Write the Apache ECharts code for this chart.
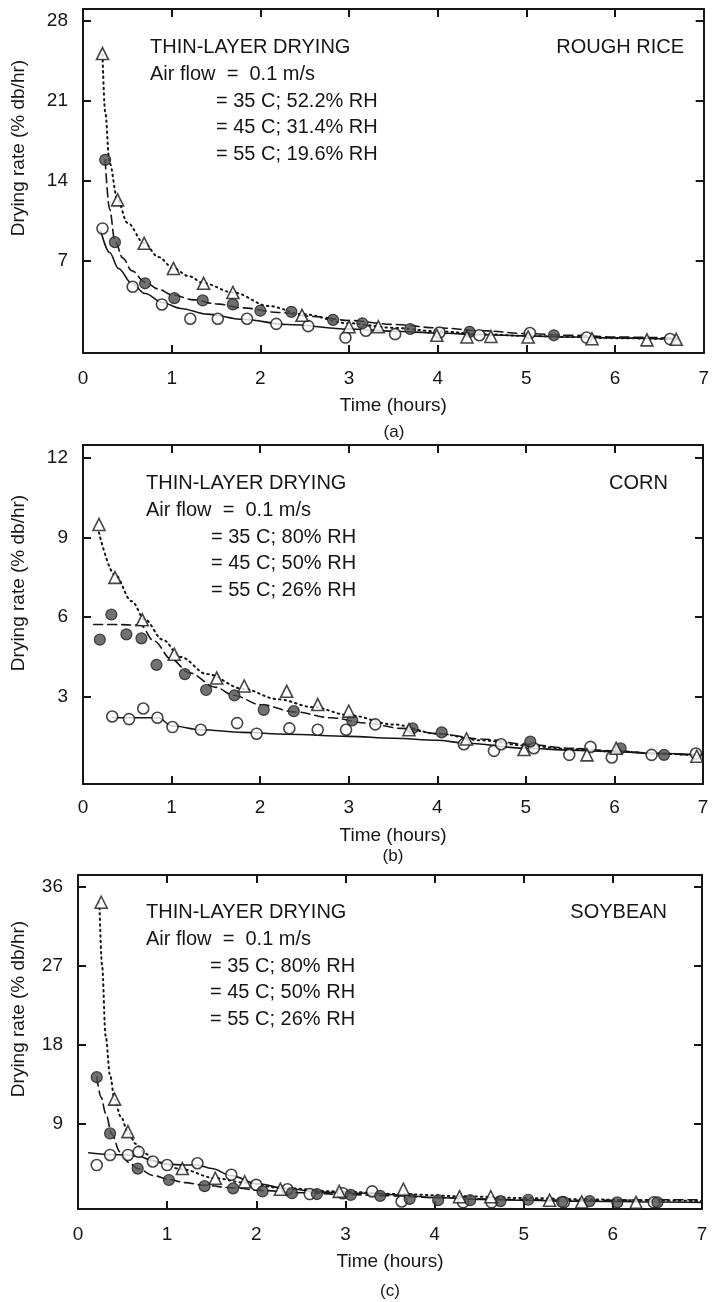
<!DOCTYPE html>
<html>
<head>
<meta charset="utf-8">
<script src="https://cdn.jsdelivr.net/npm/echarts@6/dist/echarts.min.js"></script>
<style>
html,body{margin:0;padding:0;background:#fff;}
#c{width:712px;height:1302px;}
</style>
</head>
<body>
<div id="c"></div>
<script>
// ---------- DATA ----------
const xTicks = [0, 1, 2, 3, 4, 5, 6, 7];
const riceYTicks = [7, 14, 21, 28];
const cornYTicks = [3, 6, 9, 12];
const soyYTicks = [9, 18, 27, 36];

// (a) Rough rice
const riceO35x = [0.22, 0.56, 0.89, 1.21, 1.52, 1.85, 2.18, 2.54, 2.96, 3.19, 3.52, 4.02, 4.47, 5.04, 5.68, 6.62];
const riceO35y = [9.8, 4.7, 3.15, 1.9, 1.9, 1.9, 1.45, 1.25, 0.25, 0.85, 0.55, 0.7, 0.45, 0.65, 0.25, 0.12];
const riceC45x = [0.25, 0.36, 0.70, 1.03, 1.35, 1.69, 2.0, 2.35, 2.82, 3.15, 3.69, 4.36, 5.31];
const riceC45y = [15.8, 8.6, 5.0, 3.7, 3.5, 3.15, 2.6, 2.5, 1.8, 1.5, 1.0, 0.75, 0.45];
const riceT55x = [0.22, 0.39, 0.69, 1.02, 1.36, 1.69, 2.47, 3.0, 3.33, 3.99, 4.33, 4.6, 5.02, 5.74, 6.36, 6.69];
const riceT55y = [25.1, 12.3, 8.5, 6.3, 5.0, 4.2, 2.2, 1.2, 1.2, 0.45, 0.3, 0.35, 0.3, 0.15, 0.05, 0.1];
const riceFit35x = [0.2, 0.3, 0.4, 0.55, 0.7, 0.9, 1.1, 1.4, 1.8, 2.3, 3.0, 3.5, 4.0, 4.5, 5.0, 5.5, 6.0, 6.5, 6.7];
const riceFit35y = [9.6, 7.7, 6.3, 5.0, 4.1, 3.3, 2.8, 2.3, 1.85, 1.4, 1.0, 0.8, 0.65, 0.5, 0.4, 0.3, 0.22, 0.15, 0.12];
const riceFit45x = [0.25, 0.3, 0.36, 0.45, 0.55, 0.7, 0.85, 1.0, 1.25, 1.5, 1.8, 2.2, 2.6, 3.0, 3.5, 4.0, 4.5, 5.0, 5.5, 6.0, 6.7];
const riceFit45y = [15.8, 11.5, 8.7, 7.2, 6.1, 5.1, 4.5, 4.0, 3.55, 3.2, 2.85, 2.45, 2.1, 1.75, 1.4, 1.1, 0.85, 0.6, 0.45, 0.3, 0.2];
const riceFit55x = [0.22, 0.25, 0.3, 0.39, 0.5, 0.69, 0.85, 1.02, 1.2, 1.36, 1.69, 2.1, 2.47, 3.0, 3.5, 4.0, 4.5, 5.0, 5.5, 6.0, 6.7];
const riceFit55y = [25.0, 20.0, 15.5, 12.3, 10.3, 8.5, 7.3, 6.3, 5.6, 5.0, 4.2, 3.0, 2.3, 1.5, 1.1, 0.8, 0.55, 0.4, 0.3, 0.2, 0.1];

// (b) Corn
const cornO35x = [0.33, 0.52, 0.68, 0.84, 1.01, 1.33, 1.74, 1.96, 2.33, 2.65, 2.97, 3.30, 4.30, 4.64, 4.72, 5.09, 5.49, 5.73, 5.97, 6.42, 6.92];
const cornO35y = [2.25, 2.15, 2.55, 2.2, 1.85, 1.75, 2.0, 1.6, 1.8, 1.75, 1.75, 1.95, 1.2, 0.95, 1.2, 1.05, 0.8, 1.1, 0.7, 0.8, 0.85];
const cornC45x = [0.19, 0.32, 0.49, 0.66, 0.83, 1.15, 1.39, 1.71, 2.04, 2.38, 3.04, 3.72, 4.05, 5.05, 6.07, 6.56];
const cornC45y = [5.15, 6.1, 5.35, 5.2, 4.2, 3.85, 3.25, 3.05, 2.5, 2.45, 2.1, 1.8, 1.65, 1.3, 1.05, 0.8];
const cornT55x = [0.18, 0.36, 0.67, 1.03, 1.51, 1.82, 2.3, 2.65, 3.0, 3.68, 4.33, 4.98, 5.69, 6.02, 6.93];
const cornT55y = [9.5, 7.5, 5.9, 4.6, 3.7, 3.4, 3.2, 2.7, 2.45, 1.75, 1.4, 1.0, 0.8, 1.05, 0.75];
const cornFit35x = [0.33, 0.6, 0.85, 1.0, 1.33, 1.8, 2.3, 3.0, 3.5, 4.0, 4.3, 5.0, 5.5, 6.0, 6.5, 7.0];
const cornFit35y = [2.2, 2.2, 2.2, 1.9, 1.75, 1.65, 1.58, 1.5, 1.43, 1.35, 1.25, 1.05, 0.98, 0.92, 0.85, 0.8];
const cornFit45x = [0.12, 0.35, 0.65, 0.8, 1.0, 1.2, 1.5, 1.7, 2.0, 2.4, 2.8, 3.2, 3.6, 4.0, 4.5, 5.0, 5.5, 6.0, 6.5, 7.0];
const cornFit45y = [5.72, 5.72, 5.7, 5.1, 4.4, 3.9, 3.35, 3.05, 2.7, 2.42, 2.2, 2.0, 1.8, 1.6, 1.4, 1.2, 1.05, 0.95, 0.85, 0.75];
const cornFit55x = [0.18, 0.36, 0.55, 0.7, 0.9, 1.1, 1.4, 1.8, 2.2, 2.6, 3.0, 3.5, 4.0, 4.5, 5.0, 5.5, 6.0, 6.5, 7.0];
const cornFit55y = [9.2, 7.6, 6.6, 5.9, 5.15, 4.5, 3.85, 3.3, 2.9, 2.6, 2.3, 1.95, 1.6, 1.35, 1.15, 1.02, 0.93, 0.85, 0.75];

// (c) Soybean
const soyO35x = [0.21, 0.36, 0.56, 0.68, 0.84, 1.0, 1.34, 1.72, 2.0, 2.35, 2.6, 2.97, 3.30, 3.63, 4.32, 4.64, 5.45, 6.46];
const soyO35y = [4.3, 5.45, 5.45, 5.8, 4.7, 4.3, 4.5, 3.2, 2.05, 1.55, 1.0, 1.1, 1.3, 0.15, 0.05, 0.05, 0.05, 0.05];
const soyC45x = [0.21, 0.36, 0.67, 1.02, 1.42, 1.74, 2.07, 2.40, 2.68, 3.06, 3.39, 3.72, 4.04, 4.40, 4.74, 5.05, 5.43, 5.74, 6.05, 6.5];
const soyC45y = [14.3, 7.9, 3.9, 2.6, 1.9, 1.65, 1.3, 1.1, 1.0, 0.9, 0.8, 0.45, 0.3, 0.3, 0.2, 0.35, 0.1, 0.2, 0.05, 0.05];
const soyT55x = [0.26, 0.41, 0.56, 1.17, 1.54, 1.87, 2.27, 2.93, 3.65, 4.28, 4.63, 5.29, 5.65, 6.26];
const soyT55y = [34.2, 11.8, 8.1, 3.9, 2.8, 2.4, 1.55, 1.3, 1.55, 0.7, 0.7, 0.3, 0.1, 0.05];
const soyFit35x = [0.12, 0.36, 0.56, 0.68, 0.84, 1.0, 1.2, 1.34, 1.5, 1.72, 2.0, 2.35, 2.7, 3.0, 3.3, 3.6, 4.0, 4.5, 5.0, 5.5, 6.0, 6.5, 7.0];
const soyFit35y = [5.7, 5.5, 5.45, 5.3, 4.8, 4.4, 4.3, 4.3, 3.9, 3.1, 2.2, 1.6, 1.25, 1.1, 1.1, 0.9, 0.6, 0.4, 0.3, 0.2, 0.15, 0.1, 0.05];
const soyFit45x = [0.21, 0.26, 0.31, 0.38, 0.47, 0.57, 0.67, 0.85, 1.02, 1.2, 1.42, 1.74, 2.07, 2.5, 3.0, 3.5, 4.0, 4.5, 5.0, 5.5, 6.0, 6.5, 7.0];
const soyFit45y = [14.3, 12.0, 10.2, 7.8, 5.8, 4.6, 3.9, 3.1, 2.65, 2.3, 2.0, 1.7, 1.4, 1.15, 0.95, 0.8, 0.6, 0.45, 0.35, 0.3, 0.3, 0.35, 0.35];
const soyFit55x = [0.24, 0.27, 0.31, 0.36, 0.41, 0.48, 0.56, 0.65, 0.75, 0.9, 1.17, 1.54, 1.87, 2.27, 2.9, 3.6, 4.3, 5.0, 5.7, 6.3, 7.0];
const soyFit55y = [34.2, 27.0, 19.0, 14.5, 11.8, 9.8, 8.1, 6.7, 5.6, 4.6, 3.8, 2.8, 2.3, 1.7, 1.3, 1.0, 0.75, 0.55, 0.4, 0.3, 0.2];

const yAxisTitle = 'Drying rate (% db/hr)';
const xAxisTitle = 'Time (hours)';
const panels = [
  {crop: 'ROUGH RICE', tag: '(a)', cond: ['= 35 C; 52.2% RH', '= 45 C; 31.4% RH', '= 55 C; 19.6% RH']},
  {crop: 'CORN', tag: '(b)', cond: ['= 35 C; 80% RH', '= 45 C; 50% RH', '= 55 C; 26% RH']},
  {crop: 'SOYBEAN', tag: '(c)', cond: ['= 35 C; 80% RH', '= 45 C; 50% RH', '= 55 C; 26% RH']}
];
const titleLine1 = 'THIN-LAYER DRYING';
const titleLine2 = 'Air flow  =  0.1 m/s';

// ---------- LAYOUT / STYLE ----------
const FONT = "'Liberation Sans', Arial, Helvetica, sans-serif";
const INK = '#161616';
const layout = [
  {grid: {left: 83, top: 9, width: 622, height: 344}, ymin: -1.1, ymax: 29.0, yt: riceYTicks,
   textL: 150, textEq: 216, textY: 47, cropR: 684, tagY: 432, nameY: 148, lblMargin: 16, nameGap: 43},
  {grid: {left: 83, top: 445, width: 620, height: 339}, ymin: -0.3, ymax: 12.5, yt: cornYTicks,
   textL: 146, textEq: 211, textY: 483, cropR: 668, tagY: 856, nameY: 583, lblMargin: 14, nameGap: 42},
  {grid: {left: 78, top: 875, width: 624, height: 334}, ymin: -0.7, ymax: 37.3, yt: soyYTicks,
   textL: 146, textEq: 210, textY: 912, cropR: 667, tagY: 1291, nameY: 1009, lblMargin: 16, nameGap: 43}
];

const pairs = (xs, ys) => xs.map((x, i) => [x, ys[i]]);
const axisLine = {show: true, onZero: false, lineStyle: {color: INK, width: 2}};

const grids = [], xAxes = [], yAxes = [], series = [], graphics = [];
layout.forEach((L, g) => {
  grids.push(Object.assign({containLabel: false}, L.grid));
  xAxes.push({type: 'value', gridIndex: g, position: 'bottom', min: 0, max: 7, interval: 1,
    axisLine, splitLine: {show: false},
    axisTick: {inside: true, length: 8, lineStyle: {color: INK, width: 2}},
    axisLabel: {fontSize: 19, color: INK, fontFamily: FONT, margin: L.lblMargin,
      customValues: xTicks},
    name: xAxisTitle, nameLocation: 'middle', nameGap: L.nameGap,
    nameTextStyle: {fontSize: 19, color: INK, fontFamily: FONT}});
  xAxes.push({type: 'value', gridIndex: g, position: 'top', min: 0, max: 7, interval: 1,
    axisLine, splitLine: {show: false},
    axisTick: {inside: true, length: 8, lineStyle: {color: INK, width: 2}},
    axisLabel: {show: false}});
  yAxes.push({type: 'value', gridIndex: g, position: 'left', min: L.ymin, max: L.ymax,
    axisLine, splitLine: {show: false},
    axisTick: {inside: true, length: 8, customValues: L.yt, lineStyle: {color: INK, width: 2}},
    axisLabel: {fontSize: 19, color: INK, fontFamily: FONT, margin: 15, customValues: L.yt}});
  yAxes.push({type: 'value', gridIndex: g, position: 'right', min: L.ymin, max: L.ymax,
    axisLine, splitLine: {show: false},
    axisTick: {inside: true, length: 8, customValues: L.yt, lineStyle: {color: INK, width: 2}},
    axisLabel: {show: false}});

  const P = panels[g];
  const txt = (text, x, y, align, size, extra) => Object.assign({type: 'text', x, y, silent: true,
    style: {text, fill: INK, font: (size || 20) + 'px ' + FONT, textAlign: align || 'left', textVerticalAlign: 'middle'}}, extra || {});
  graphics.push(txt(titleLine1, L.textL, L.textY));
  graphics.push(txt(titleLine2, L.textL, L.textY + 27));
  P.cond.forEach((c, i) => graphics.push(txt(c, L.textEq, L.textY + 54 + 26.5 * i)));
  graphics.push(txt(P.crop, L.cropR, L.textY, 'right'));
  graphics.push(txt(P.tag, L.grid.left + L.grid.width / 2, L.tagY, 'center', 17));
  graphics.push(txt(yAxisTitle, 19, L.nameY, 'center', 19, {rotation: Math.PI / 2}));
});

const lineSeries = (g, xs, ys, dash, w) => ({
  type: 'line', xAxisIndex: 2 * g, yAxisIndex: 2 * g, data: pairs(xs, ys),
  showSymbol: false, smooth: 0.35, smoothMonotone: 'x', z: 2, silent: true,
  lineStyle: {color: INK, width: w, type: dash, cap: 'round'}
});
const DASH = [9, 5], DOT = [1.5, 4];
const openC = {color: '#fff', borderColor: INK, borderWidth: 1.6};
const filledC = {color: '#4d4d4d', borderColor: '#1e1e1e', borderWidth: 1.2};
const openT = {color: '#fff', borderColor: INK, borderWidth: 1.6};
const scat = (g, xs, ys, sym, size, style) => ({
  type: 'scatter', xAxisIndex: 2 * g, yAxisIndex: 2 * g, data: pairs(xs, ys),
  symbol: sym, symbolSize: size, itemStyle: style, z: 3, silent: true
});

const sets = [
  [riceFit35x, riceFit35y, riceFit45x, riceFit45y, riceFit55x, riceFit55y, riceO35x, riceO35y, riceC45x, riceC45y, riceT55x, riceT55y],
  [cornFit35x, cornFit35y, cornFit45x, cornFit45y, cornFit55x, cornFit55y, cornO35x, cornO35y, cornC45x, cornC45y, cornT55x, cornT55y],
  [soyFit35x, soyFit35y, soyFit45x, soyFit45y, soyFit55x, soyFit55y, soyO35x, soyO35y, soyC45x, soyC45y, soyT55x, soyT55y]
];
sets.forEach((s, g) => {
  series.push(lineSeries(g, s[0], s[1], 'solid', 1.6));
  series.push(lineSeries(g, s[2], s[3], DASH, 1.6));
  series.push(lineSeries(g, s[4], s[5], DOT, 2));
  series.push(scat(g, s[6], s[7], 'circle', 11, openC));
  series.push(scat(g, s[8], s[9], 'circle', 11, filledC));
  series.push(scat(g, s[10], s[11], 'triangle', 12, openT));
});

const chart = echarts.init(document.getElementById('c'), null, {renderer: 'canvas'});
chart.setOption({
  animation: false,
  backgroundColor: '#fff',
  textStyle: {fontFamily: FONT},
  grid: grids, xAxis: xAxes, yAxis: yAxes, series,
  graphic: graphics
});
</script>
</body>
</html>
